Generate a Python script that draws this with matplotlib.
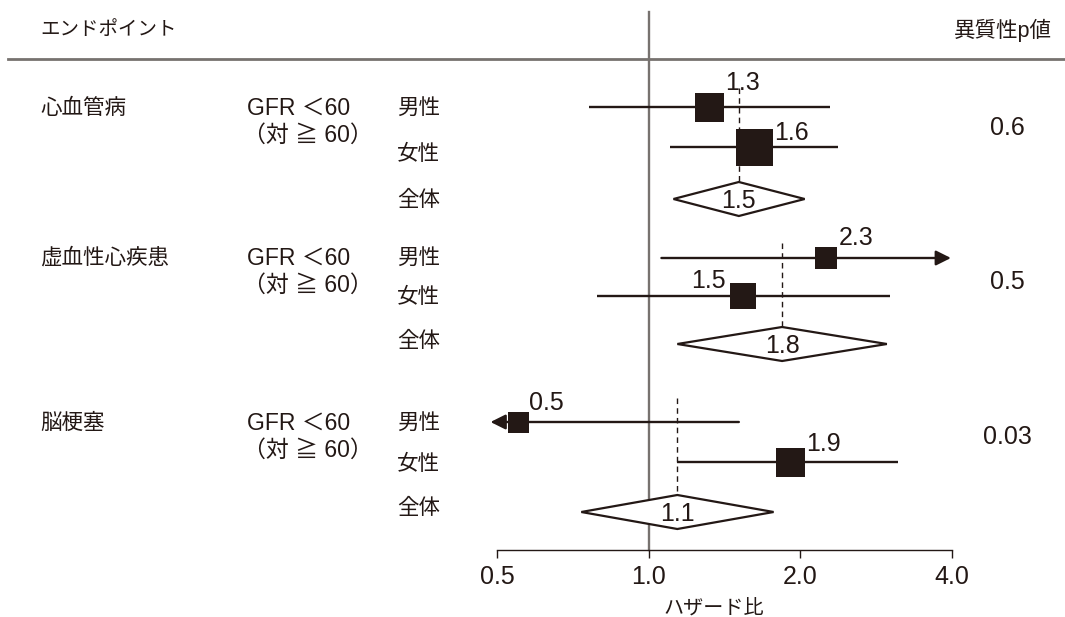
import matplotlib
matplotlib.use("Agg")
import matplotlib.pyplot as plt
from matplotlib.patches import Polygon
from matplotlib.lines import Line2D
from matplotlib.ticker import NullLocator, FixedLocator, FixedFormatter

plt.rcParams['font.family'] = ['Liberation Sans', 'Noto Sans CJK JP']

# ---------------- data ----------------
groups = ['心血管病', '虚血性心疾患', '脳梗塞']
comparison = ['GFR ＜60', '（対 ≧ 60）']
subgroups = ['男性', '女性', '全体']
p_values = ['0.6', '0.5', '0.03']

# hazard ratios (position) and CI; None = beyond axis (arrow)
male_est = [1.32, 2.25, 0.55]
male_lo = [0.76, 1.06, None]
male_hi = [2.29, None, 1.51]
male_lbl = ['1.3', '2.3', '0.5']

female_est = [1.62, 1.54, 1.91]
female_lo = [1.10, 0.79, 1.14]
female_hi = [2.38, 3.01, 3.12]
female_lbl = ['1.6', '1.5', '1.9']

overall_est = [1.51, 1.84, 1.14]
overall_lo = [1.12, 1.14, 0.735]
overall_hi = [2.04, 2.97, 1.77]
overall_lbl = ['1.5', '1.8', '1.1']

x_ticks = [0.5, 1.0, 2.0, 4.0]
x_tick_labels = ['0.5', '1.0', '2.0', '4.0']
x_label = 'ハザード比'

# ---------------- layout (pixels) ----------------
W, H = 1065, 617
row_male = [107, 258, 422]
row_female = [147, 296, 462]
row_overall = [199, 344, 512]
txt_male = [108, 258, 423]
txt_female = [155, 298, 465]
txt_overall = [200, 342, 509]
p_y = [128, 282, 437]
dash_top = [88, 243, 398]
male_size = [29, 23, 21]
female_size = [37, 26, 29]
# label placement: (side, dy from square top to baseline)
male_place = [('r', -2.5), ('r', -1.5), ('r', -1.5)]
female_place = [('r', 11.5), ('l', 5), ('r', 3.5)]
diamond_half_h = 17

DARK = '#231815'
GRAY = '#77726f'
FS_NUM = 18
FS_JP = 15.5
FS_CMP = 16.5

fig = plt.figure(figsize=(W / 100, H / 100), dpi=100)
ax = fig.add_axes([497 / W, 0, (952 - 497) / W, 1])
ax.set_xscale('log', base=2)
ax.set_xlim(0.5, 4.0)
ax.set_ylim(H, 0)
for s in ['top', 'left', 'right']:
    ax.spines[s].set_visible(False)
ax.spines['bottom'].set_position(('data', 550))
ax.spines['bottom'].set_color(DARK)
ax.spines['bottom'].set_linewidth(1.0)
ax.xaxis.set_major_locator(FixedLocator(x_ticks))
ax.xaxis.set_major_formatter(FixedFormatter(x_tick_labels))
ax.xaxis.set_minor_locator(NullLocator())
ax.tick_params(axis='x', direction='out', length=6, width=1.0, color=DARK,
               labelsize=FS_NUM, labelcolor=DARK, pad=5)
ax.set_yticks([])
ax.patch.set_alpha(0)

# reference line at HR = 1
ax.axvline(1.0, ymin=1 - 550 / H, ymax=1 - 12 / H, color=GRAY, lw=1.7, zorder=1)

# header
fig.add_artist(Line2D([8 / W, 1.0], [1 - 59 / H] * 2, color=GRAY, lw=2.0))
fig.text(40 / W, 1 - 30 / H, 'エンドポイント', fontsize=14, color=DARK, va='center', ha='left')
fig.text(1052 / W, 1 - 30 / H, '異質性p値', fontsize=FS_JP, color=DARK, va='center', ha='right')
fig.text(714 / W, 1 - 609 / H, x_label, fontsize=14.5, color=DARK, va='center', ha='center')

left_lim, right_lim = ax.get_xlim()
tip_left = left_lim / 1.03
tip_right = right_lim / 1.005


def draw_ci(lo, hi, y):
    if lo is None:
        ax.annotate('', xy=(tip_left, y), xytext=(hi, y),
                    arrowprops=dict(arrowstyle='-|>,head_length=0.9,head_width=0.45',
                                    lw=1.7, color=DARK, shrinkA=0, shrinkB=0,
                                    mutation_scale=10), annotation_clip=False)
    elif hi is None:
        ax.annotate('', xy=(tip_right, y), xytext=(lo, y),
                    arrowprops=dict(arrowstyle='-|>,head_length=0.9,head_width=0.45',
                                    lw=1.7, color=DARK, shrinkA=0, shrinkB=0,
                                    mutation_scale=10), annotation_clip=False)
    else:
        ax.plot([lo, hi], [y, y], color=DARK, lw=1.7, solid_capstyle='butt',
                zorder=2, clip_on=False)


def draw_square(est, y, size, label, place):
    ax.plot([est], [y], marker='s', markersize=size * 0.72, color=DARK,
            markeredgewidth=0, zorder=4, clip_on=False)
    side, dy = place
    ytext = y - size / 2 + dy
    if side == 'r':
        ax.annotate(label, xy=(est, ytext), xytext=((size / 2 + 1.0) * 0.72, 0),
                    textcoords='offset points', ha='left', va='baseline',
                    fontsize=FS_NUM, color=DARK, annotation_clip=False)
    else:
        ax.annotate(label, xy=(est, ytext), xytext=(-(size / 2 + 4) * 0.72, 0),
                    textcoords='offset points', ha='right', va='baseline',
                    fontsize=FS_NUM, color=DARK, annotation_clip=False)


for i in range(len(groups)):
    # left text columns
    fig.text(40 / W, 1 - txt_male[i] / H, groups[i], fontsize=FS_JP, color=DARK,
             va='center', ha='left')
    fig.text(247 / W, 1 - txt_male[i] / H, comparison[0], fontsize=FS_CMP, color=DARK,
             va='center', ha='left')
    fig.text(243 / W, 1 - (txt_male[i] + 27) / H, comparison[1], fontsize=FS_CMP,
             color=DARK, va='center', ha='left')
    for yt, sg in zip([txt_male[i], txt_female[i], txt_overall[i]], subgroups):
        fig.text(397 / W, 1 - yt / H, sg, fontsize=FS_JP, color=DARK,
                 va='center', ha='left')
    fig.text(1007 / W, 1 - p_y[i] / H, p_values[i], fontsize=FS_NUM, color=DARK,
             va='center', ha='center')

    # male
    draw_ci(male_lo[i], male_hi[i], row_male[i])
    draw_square(male_est[i], row_male[i], male_size[i], male_lbl[i], male_place[i])
    # female
    draw_ci(female_lo[i], female_hi[i], row_female[i])
    draw_square(female_est[i], row_female[i], female_size[i], female_lbl[i], female_place[i])
    # overall diamond
    yo = row_overall[i]
    h = diamond_half_h
    dia = Polygon([(overall_lo[i], yo), (overall_est[i], yo - h),
                   (overall_hi[i], yo), (overall_est[i], yo + h)],
                  closed=True, facecolor='white', edgecolor=DARK, lw=1.6,
                  zorder=3, clip_on=False)
    ax.add_patch(dia)
    ax.plot([overall_est[i]] * 2, [dash_top[i], yo - h], color=DARK, lw=1.0,
            ls=(0, (4, 3)), zorder=1)
    ax.text(overall_est[i], yo + 9, overall_lbl[i], ha='center', va='baseline',
            fontsize=FS_NUM, color=DARK, zorder=5)

fig.savefig('out.png', dpi=100)
